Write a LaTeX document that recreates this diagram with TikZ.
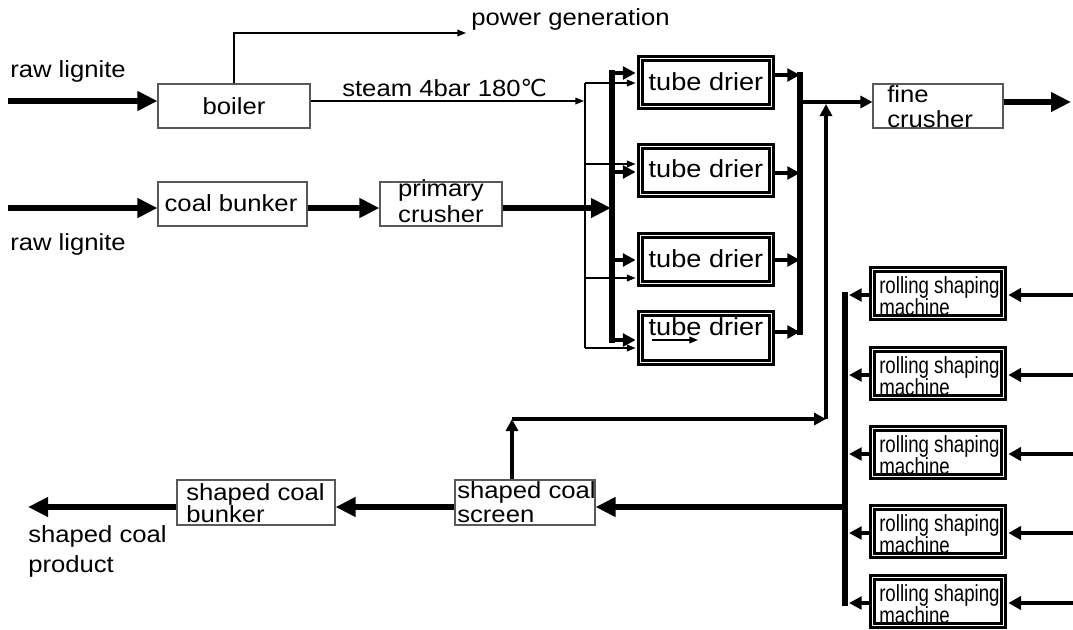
\documentclass[tikz,border=0pt]{standalone}
\usepackage{fontspec}
\setmainfont{Liberation Sans}[FakeStretch=1.1]
\newfontfamily\narrowfont{Liberation Sans}[FakeStretch=0.8]
\newfontfamily\symfont{DejaVu Sans}
\usetikzlibrary{arrows.meta,fit,calc}
\begin{document}
\begin{tikzpicture}[x=0.75pt,y=-0.75pt,
  plainbox/.style={draw=black!65, line width=0.8pt, inner sep=0pt},
  dblbox/.style={draw=black, double=white, double distance=1.1pt, line width=2.1pt, inner sep=0pt},
  lbl/.style={font=\fontsize{17.5}{20}\selectfont, inner sep=0pt, anchor=base west},
  clbl/.style={font=\fontsize{17.5}{20}\selectfont, inner sep=0pt, anchor=base},
  tdlbl/.style={font=\fontsize{18.5}{20}\selectfont, inner sep=0pt, anchor=base},
  rslbl/.style={font=\narrowfont\fontsize{17.5}{20}\selectfont, inner sep=0pt, anchor=base west},
  heavyarr/.style={line width=5.2pt, -{Triangle[length=15pt,width=14pt]}},
  busline/.style={line width=3.8pt, line cap=rect},
  busarr/.style={line width=3.6pt, -{Triangle[length=9.5pt,width=9.5pt]}},
  rinarr/.style={line width=3.4pt, -{Triangle[length=9.5pt,width=10pt]}},
  medarr/.style={line width=3pt, -{Triangle[length=9pt,width=9pt]}},
  thinline/.style={line width=1.1pt},
  thinarr/.style={line width=1.1pt, -{Triangle[length=6.5pt,width=5pt]}}
]
\fill[white] (0,0) rectangle (1073,629);
\useasboundingbox (0,0) rectangle (1073,629);

% ---------- boxes ----------
\node[plainbox, fit={(158,84) (310,128)}] (boiler) {};
\node[plainbox, fit={(158,182) (307,226)}] (cbunker) {};
\node[plainbox, fit={(380,182) (502,226)}] (primary) {};
\node[plainbox, fit={(873,84) (1003,128)}] (fine) {};
\node[plainbox, fit={(455,480) (595,525)}] (screen) {};
\node[plainbox, fit={(177,480) (335,525)}] (sbunker) {};

\node[dblbox, fit={(640.5,58.5) (771.5,106.5)}] (td1) {};
\node[dblbox, fit={(640.5,146.5) (771.5,194.5)}] (td2) {};
\node[dblbox, fit={(640.5,235.5) (771.5,283.5)}] (td3) {};
\node[dblbox, fit={(640.5,313.5) (771.5,362.5)}] (td4) {};
\node[tdlbl] (td1t) at (706,90) {tube drier};
\node[tdlbl] (td2t) at (706,177) {tube drier};
\node[tdlbl] (td3t) at (706,267) {tube drier};
\node[tdlbl] (td4t) at (706,335) {tube drier};

\foreach \i/\t in {1/266,2/346,3/425,4/504,5/574}{
  \node[dblbox, fit={({872.5},{\t+3.5}) ({1003.5},{\t+51.5})}] (rs\i) {};
  \node[rslbl] (rs\i a) at ({879},{\t+27}) {rolling shaping};
  \node[rslbl] (rs\i b) at ({879},{\t+49}) {machine};
}

% ---------- texts ----------
\node[clbl] (boilert) at (234,114) {boiler};
\node[clbl] (cbunkert) at (231,211) {coal bunker};
\node[lbl] (rawAt) at (10,77) {raw lignite};
\node[lbl] (rawBt) at (10,250) {raw lignite};
\node[lbl] (pwrt) at (471,25) {power generation};
\node[lbl] (stt) at (342,96) {steam 4bar 180{\symfont ℃}};
\node[clbl] (prA) at (441,196) {primary};
\node[clbl] (prB) at (441,222) {crusher};
\node[lbl] (fnA) at (887,102) {fine};
\node[lbl] (fnB) at (887,127) {crusher};
\node[lbl] (scA) at (457,498) {shaped coal};
\node[lbl] (scB) at (457,522) {screen};
\node[lbl] (sbA) at (186,500) {shaped coal};
\node[lbl] (sbB) at (186,522) {bunker};
\node[lbl] (prodA) at (28,542) {shaped coal};
\node[lbl] (prodB) at (28,572) {product};

% ---------- raw lignite lines ----------
\coordinate (rawA) at (8,101);
\coordinate (rawB) at (8,208);
\coordinate (lbIn) at (611,208);
\draw[heavyarr] (rawA) -- (rawA -| boiler.west);
\draw[heavyarr] (rawB) -- (rawB -| cbunker.west);
\draw[heavyarr] (rawB -| cbunker.east) -- (rawB -| primary.west);
\draw[heavyarr] (rawB -| primary.east) -- (lbIn);

% ---------- steam ----------
\coordinate (stIn) at (584,101);
\coordinate (pwr) at (466,33);
\draw[thinarr] (stIn -| boiler.east) -- (stIn);
\draw[thinarr] (boiler.north) |- (pwr);
\coordinate (s1) at (585,83);
\coordinate (s2) at (585,164);
\coordinate (s3) at (585,278);
\coordinate (s4) at (585,348);
\draw[thinline] (s1) -- (s4);
\draw[thinarr, shorten >=2.6pt] (s1) -- (s1 -| td1.west);
\draw[thinarr, shorten >=2.6pt] (s2) -- (s2 -| td2.west);
\draw[thinarr, shorten >=2.6pt] (s3) -- (s3 -| td3.west);
\draw[thinarr, shorten >=2.6pt] (s4) -- (s4 -| td4.west);

% ---------- left bus to driers ----------
\coordinate (lb1) at (612,73);
\coordinate (lb2) at (612,172);
\coordinate (lb3) at (612,260);
\coordinate (lb4) at (612,340);
\draw[busline] (lb1) -- (lb4);
\draw[busarr, shorten >=2.6pt] (lb1) -- (lb1 -| td1.west);
\draw[busarr, shorten >=2.6pt] (lb2) -- (lb2 -| td2.west);
\draw[busarr, shorten >=2.6pt] (lb3) -- (lb3 -| td3.west);
\draw[busarr, shorten >=2.6pt] (lb4) -- (lb4 -| td4.west);

% ---------- right bus from driers ----------
\coordinate (rb1) at (800,75);
\coordinate (rb2) at (800,173);
\coordinate (rb3) at (800,260);
\coordinate (rb4) at (800,332);
\draw[busline] (rb1) -- (rb4);
\draw[busarr] (rb1 -| td1.east) -- (rb1);
\draw[busarr] (rb2 -| td2.east) -- (rb2);
\draw[busarr] (rb3 -| td3.east) -- (rb3);
\draw[busarr] (rb4 -| td4.east) -- (rb4);
\coordinate (rbOut) at (800,102);
\coordinate (fOut) at (1071,102);
\draw[medarr] (rbOut) -- (rbOut -| fine.west);
\draw[heavyarr] (rbOut -| fine.east) -- (fOut);

% small arrow inside the last drier
\coordinate (tdaA) at (652,340);
\coordinate (tdaB) at (698,340);
\draw[thinarr] (tdaA) -- (tdaB);

% ---------- recycle ----------
\coordinate (rcA) at (512,419);
\coordinate (rcB) at (826,419);
\coordinate (rcC) at (826,104);
\draw[medarr] (rcA |- screen.north) -- (rcA);
\draw[medarr] (rcA) -- (rcB);
\draw[medarr] (rcB) -- (rcC);

% ---------- rolling shaping machines ----------
\coordinate (rlT) at (845,295);
\coordinate (rlB) at (845,603);
\draw[busline] (rlT) -- (rlB);
\foreach \i/\t in {1/266,2/346,3/425,4/504,5/574}{
  \coordinate (rl\i) at ({849},{\t+29});
  \coordinate (ri\i) at ({1073},{\t+29});
  \draw[busarr] (rl\i -| rs\i.west) -- (rl\i);
  \draw[rinarr, shorten >=2.6pt] (ri\i) -- (ri\i -| rs\i.east);
}
\coordinate (scIn) at (845,507);
\coordinate (prodEnd) at (28,507);
\draw[heavyarr] (scIn) -- (scIn -| screen.east);
\draw[heavyarr] (scIn -| screen.west) -- (scIn -| sbunker.east);
\draw[heavyarr] (scIn -| sbunker.west) -- (prodEnd);
\end{tikzpicture}
\end{document}
